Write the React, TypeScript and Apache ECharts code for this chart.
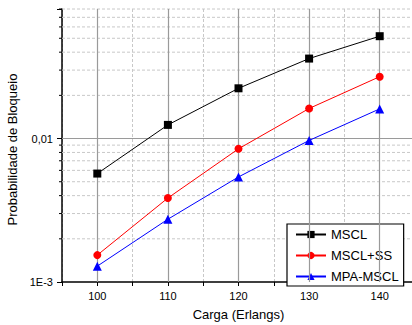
import React, { useEffect, useRef } from "react";
import * as echarts from "echarts";

const loads = [100, 110, 120, 130, 140];
const msclValues = [0.0057, 0.01245, 0.0224, 0.0361, 0.0517];
const msclSsValues = [0.00154, 0.00385, 0.00848, 0.0162, 0.027];
const mpaMsclValues = [0.00129, 0.00274, 0.0054, 0.0097, 0.0161];
const seriesNames = ["MSCL", "MSCL+SS", "MPA-MSCL"];
const yMinorValues = [
  0.002, 0.003, 0.004, 0.005, 0.006, 0.007, 0.008, 0.009,
  0.02, 0.03, 0.04, 0.05, 0.06, 0.07, 0.08,
];
const xMajorValues = [100, 110, 120, 130, 140];
const yMajorValue = 0.01;
const X_MIN = 95;
const X_MAX = 145;
const Y_MIN = 0.001;
const Y_MAX = 0.08;

const FONT = "'Liberation Sans', Arial, sans-serif";

export default function App() {
  const ref = useRef<HTMLDivElement>(null);
  useEffect(() => {
    if (!ref.current) return;
    const chart = echarts.init(ref.current, undefined, { renderer: "svg" });
    const pairs = (vals: number[]) => loads.map((x, i) => [x, vals[i]]);
    const lineSeries = (name: string, vals: number[], color: string, symbol: string) => ({
      name,
      type: "line",
      data: pairs(vals),
      symbol,
      symbolSize: symbol === "triangle" ? 9 : 8,
      showSymbol: true,
      z: 5,
      itemStyle: { color },
      lineStyle: { color, width: 1 },
    });
    chart.setOption({
      animation: false,
      backgroundColor: "#fff",
      grid: {
        left: 62,
        top: 9,
        right: -3,
        bottom: 43,
        containLabel: false,
        outerBoundsMode: "none",
      },
      xAxis: {
        type: "value",
        min: X_MIN,
        max: X_MAX,
        interval: 5,
        name: "Carga (Erlangs)",
        nameLocation: "middle",
        nameGap: 26,
        nameTextStyle: { fontFamily: FONT, fontSize: 13, color: "#000" },
        axisLine: { show: true, onZero: false, lineStyle: { color: "#000", width: 1.5 } },
        axisTick: { show: true, length: 4, lineStyle: { color: "#000" } },
        axisLabel: {
          margin: 8,
          fontFamily: FONT,
          fontSize: 11,
          color: "#000",
          formatter: (v: number) => (v % 10 === 0 && v >= 100 && v <= 140 ? String(v) : ""),
        },
        splitLine: { show: true, lineStyle: { color: "#c8c8c8", type: [3, 2], width: 1 } },
      },
      yAxis: {
        type: "log",
        logBase: 10,
        min: Y_MIN,
        max: Y_MAX,
        name: "Probabilidade de Bloqueio",
        nameLocation: "middle",
        nameGap: 39,
        nameTextStyle: { fontFamily: FONT, fontSize: 13, color: "#000", padding: [0, 8, 0, 0] },
        axisLine: { show: true, lineStyle: { color: "#000", width: 1.5 } },
        axisTick: { show: true, length: 5, lineStyle: { color: "#000" } },
        axisLabel: {
          margin: 9,
          fontFamily: FONT,
          fontSize: 11,
          color: "#000",
          formatter: (v: number) => {
            if (Math.abs(Math.log10(v) + 2) < 1e-6) return "0,01";
            if (Math.abs(Math.log10(v) + 3) < 1e-6) return "1E-3";
            return "";
          },
        },
        splitLine: { show: false },
      },
      legend: {
        data: seriesNames,
        orient: "vertical",
        left: 287,
        top: 224,
        padding: [4, 5, 3, 8],
        itemGap: 8,
        itemWidth: 30,
        itemHeight: 9,
        backgroundColor: "#fff",
        borderColor: "#000",
        borderWidth: 1.2,
        borderRadius: 0,
        textStyle: { fontFamily: FONT, fontSize: 13, color: "#000" },
      },
      series: [
        {
          name: "grid",
          type: "custom",
          z: 1,
          silent: true,
          clip: false,
          data: yMinorValues.map((v) => [X_MIN, v]),
          renderItem: (params: any, api: any) => {
            const v = api.value(1);
            const p1 = api.coord([X_MIN, v]);
            const p2 = api.coord([X_MAX, v]);
            return {
              type: "group",
              children: [
                {
                  type: "line",
                  shape: { x1: p1[0], y1: p1[1], x2: p2[0], y2: p2[1] },
                  style: { stroke: "#c8c8c8", lineWidth: 1, lineDash: [3, 2] },
                },
                {
                  type: "line",
                  shape: { x1: p1[0] - 3, y1: p1[1], x2: p1[0], y2: p1[1] },
                  style: { stroke: "#000", lineWidth: 1 },
                },
              ],
            };
          },
          markLine: {
            silent: true,
            symbol: "none",
            label: { show: false },
            lineStyle: { color: "#9a9a9a", type: "solid", width: 1.2 },
            data: [
              ...xMajorValues.map((x) => ({ xAxis: x })),
              { yAxis: yMajorValue },
            ],
          },
        },
        lineSeries(seriesNames[0], msclValues, "#000000", "rect"),
        lineSeries(seriesNames[1], msclSsValues, "#ff0000", "circle"),
        lineSeries(seriesNames[2], mpaMsclValues, "#0000ff", "triangle"),
      ],
    });
    return () => chart.dispose();
  }, []);
  return (
    <div
      ref={ref}
      style={{ position: "fixed", left: 0, top: 0, width: 412, height: 325 }}
    />
  );
}
